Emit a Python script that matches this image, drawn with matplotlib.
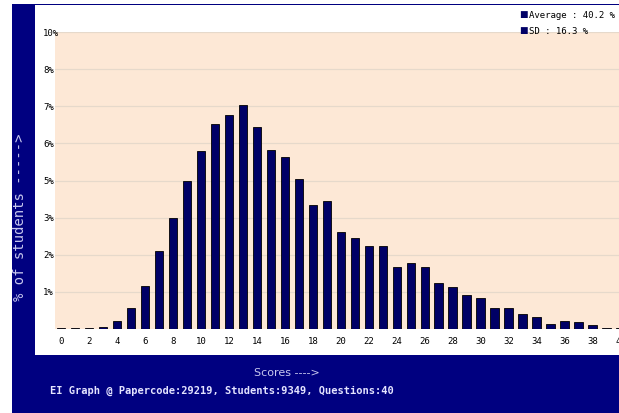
import matplotlib.pyplot as plt
from matplotlib.patches import Rectangle

# Percentage of students per score (0..40)
scores = list(range(41))
percent_students = [
    0.03, 0.03, 0.03, 0.06, 0.26, 0.72, 1.45, 2.64, 3.74, 4.99,
    5.98, 6.89, 7.19, 7.53, 6.79, 6.03, 5.80, 5.04, 4.17, 4.31,
    3.27, 3.06, 2.79, 2.79, 2.08, 2.23, 2.08, 1.55, 1.40, 1.16,
    1.03, 0.70, 0.70, 0.51, 0.40, 0.17, 0.27, 0.23, 0.12, 0.03,
    0.03,
]
ytick_values = [1.25, 2.5, 3.75, 5.0, 6.25, 7.5, 8.75, 10.0]
ytick_labels = ["1%", "2%", "3%", "5%", "6%", "7%", "8%", "10%"]
xtick_values = list(range(0, 41, 2))
legend_lines = ["Average : 40.2 %", "SD : 16.3 %"]
title_text = "EI Graph @ Papercode:29219, Students:9349, Questions:40"

W, H = 619, 413
NAVY = "#000080"
BAR = "#000066"
PEACH = "#fde8d6"
MONO = "DejaVu Sans Mono"

fig = plt.figure(figsize=(W / 100, H / 100), dpi=100)
fig.patch.set_facecolor("white")


def px_rect(x0, y0, x1, y1, color, z):
    # rectangle given in pixel coords (origin top-left)
    fig.patches.append(Rectangle((x0 / W, 1 - y1 / H), (x1 - x0) / W, (y1 - y0) / H,
                                 transform=fig.transFigure, facecolor=color,
                                 edgecolor="none", zorder=z))


px_rect(12, 4, W + 1, H + 1, NAVY, 0)
px_rect(35, 5, W + 1, 355, "white", 1)

ax = fig.add_axes([55 / W, (H - 329) / H, 1 - 55 / W, (329 - 32) / H])
ax.set_zorder(5)
ax.set_facecolor(PEACH)
ax.bar(scores, percent_students, width=0.64, color=BAR, edgecolor="black",
       linewidth=0.6, zorder=3)
ax.set_xlim(-0.43, 39.86)
ax.set_ylim(0, 10)

ax.set_yticks(ytick_values)
ax.set_yticklabels(ytick_labels, fontfamily=MONO, fontsize=6.5)
for lab in ax.get_yticklabels():
    lab.set_horizontalalignment("left")
ax.tick_params(axis="y", length=0, pad=8.6)
ax.grid(axis="y", color="#e6d9cb", linewidth=0.9, zorder=0)

ax.set_xticks([t for t in xtick_values if t < 40])
ax.set_xticklabels([str(t) for t in xtick_values if t < 40], fontfamily=MONO, fontsize=6.5)
ax.tick_params(axis="x", length=0, pad=6)
ax.text(40, -0.42, "40", ha="center", va="center", fontfamily=MONO, fontsize=6.5,
        clip_on=False)

for s in ax.spines.values():
    s.set_visible(False)

# legend in the top right corner, drawn above the plot area
for i, line in enumerate(legend_lines):
    y = 1 - (15 + 16 * i) / H
    fig.text(519 / W, y, "\u25A0", color=BAR, fontsize=6.5, va="center", ha="left",
             zorder=10)
    fig.text(529 / W, y, line, fontfamily=MONO, fontsize=6.5, va="center", ha="left",
             zorder=10)

fig.text(20 / W, 1 - 217 / H, "% of students ----->", rotation=90, color="#c8c8ee",
         fontfamily=MONO, fontsize=10, ha="center", va="center")
fig.text(287 / W, 1 - 373 / H, "Scores ---->", color="#c8c8ee", fontsize=8,
         ha="center", va="center")
fig.text(50 / W, 1 - 391 / H, title_text, color="#e4e4ff", fontfamily=MONO,
         fontsize=7.5, fontweight="bold", ha="left", va="center")

fig.savefig("out.png", dpi=100)
